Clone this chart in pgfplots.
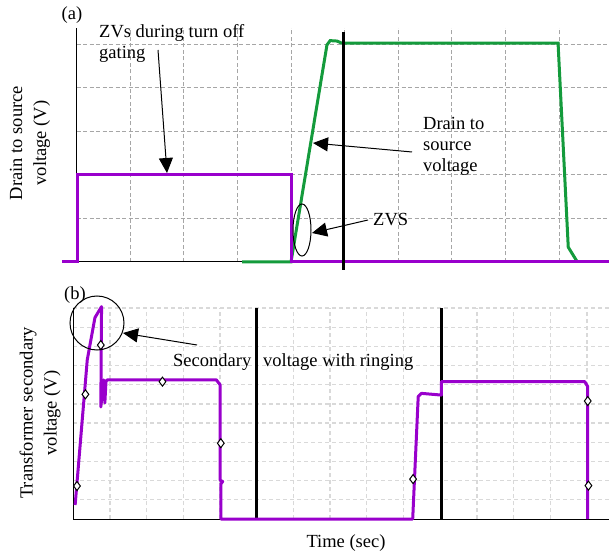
\documentclass[border=0pt]{standalone}
\usepackage{fontspec}
\setmainfont{Liberation Serif}
\usepackage{pgfplots}
\pgfplotsset{compat=1.18}
\usetikzlibrary{arrows.meta}

\definecolor{vpurple}{RGB}{153,0,204}
\definecolor{vgreen}{RGB}{20,155,60}
\newcommand\lab{\fontsize{18.5}{21}\selectfont}
\newcommand\ylab{\fontsize{18.5}{24}\selectfont}

\pgfplotsset{
  wave/.style={scale only axis, clip=false,
    axis lines=left, axis line style={-, black, line width=1pt},
    xticklabels={}, yticklabels={}, major tick length=0pt,
    grid=major},
}

\begin{document}
\begin{tikzpicture}
\useasboundingbox (0,0) rectangle (609pt,554pt);

% (a) drain to source voltage
\begin{axis}[wave, at={(76.5pt,292pt)}, anchor=south west,
    width=532.5pt, height=234pt,
    xmin=0, xmax=9.93, ymin=0, ymax=5.37,
    xtick={1,...,9}, ytick={1,...,5},
    grid style={color=black!35, line width=0.9pt, dash pattern=on 4pt off 2.5pt}]
\addplot[vgreen, line width=3pt] coordinates {
  (3.09,0) (4.0,0) (4.67,4.98) (4.73,5.08) (4.86,5.07) (4.95,5.02)
  (8.98,5.02) (9.17,0.34) (9.24,0.2) (9.34,0)};
\addplot[vpurple, line width=3pt] coordinates {
  (-0.27,0) (0.02,0) (0.02,2.0) (4.0,2.0) (4.0,0) (9.93,0)};
\addplot[black, line width=3pt] coordinates {(4.97,-0.18) (4.97,5.28)};
\end{axis}

% (b) transformer secondary voltage
\begin{axis}[wave, at={(73.3pt,35pt)}, anchor=south west,
    width=535.7pt, height=211pt,
    xmin=0, xmax=14.6, ymin=0, ymax=11,
    xtick={1,...,14}, ytick={1,...,11},
    grid style={color=black!15, line width=1.3pt, dash pattern=on 4pt off 3pt}]
\addplot[black, line width=3pt] coordinates {(5,0) (5,11)};
\addplot[black, line width=3pt] coordinates {(10.03,0) (10.03,11)};
\addplot[vpurple, line width=3pt, line join=round] coordinates {
  (0.05,0.73) (0.38,8.29) (0.59,10.5) (0.77,11.07) (0.75,5.84)
  (0.83,7.25) (0.86,6.05) (0.89,7.15) (0.92,7.25) (3.9,7.25) (4.0,7.0)
  (4.0,2.03) (4.07,1.95) (4.02,1.82) (4.02,0) (9.25,0) (9.40,6.38)
  (9.49,6.55) (10.03,6.46) (10.03,7.16) (13.94,7.16) (14.02,6.9) (14.02,0)};
\addplot[only marks, mark=diamond*, mark size=4.5pt,
    mark options={fill=white, draw=black, line width=1pt}] coordinates {
  (0.10,1.72) (0.33,6.5) (0.75,9.07) (2.43,7.16) (4.02,3.95)
  (9.26,2.08) (14.02,6.15) (14.04,1.74)};
\end{axis}

% annotations, panel (a)
\node[font=\lab] at (72pt,539pt) {(a)};
\node[font=\lab, align=left, anchor=north west, inner sep=0pt]
  at (99pt,530pt) {ZVs during turn off\\gating};
\draw[-{Triangle[length=15pt,width=14pt]}, line width=1pt] (158pt,504pt) -- (167pt,381pt);
\node[font=\lab, align=left, anchor=north west, inner sep=0pt]
  at (423pt,437pt) {Drain to\\source\\voltage};
\draw[-{Triangle[length=15pt,width=14pt]}, line width=1pt] (412pt,402pt) -- (313pt,411pt);
\draw[line width=1pt] (302pt,324pt) ellipse [x radius=9pt, y radius=26pt];
\node[font=\lab, anchor=west, inner sep=0pt] at (373pt,334pt) {ZVS};
\draw[-{Triangle[length=15pt,width=14pt]}, line width=1pt] (368pt,334pt) -- (312pt,321pt);
\node[font=\ylab, align=center, rotate=90] at (30pt,411pt) {Drain to source\\voltage (V)};

% annotations, panel (b)
\node[font=\lab] at (75pt,259pt) {(b)};
\draw[line width=1pt] (97pt,231pt) circle [radius=27pt];
\draw[-{Triangle[length=15pt,width=14pt]}, line width=1pt] (197pt,209pt) -- (123pt,221pt);
\node[font=\lab, anchor=base west, inner sep=0pt] at (173pt,188pt) {Secondary};
\node[font=\lab, anchor=base west, inner sep=0pt] at (263pt,188pt) {voltage with ringing};
\node[font=\ylab, align=center, rotate=90] at (40pt,141pt) {Transformer secondary\\voltage (V)};
\node[font=\lab] at (346pt,11pt) {Time (sec)};
\end{tikzpicture}
\end{document}
